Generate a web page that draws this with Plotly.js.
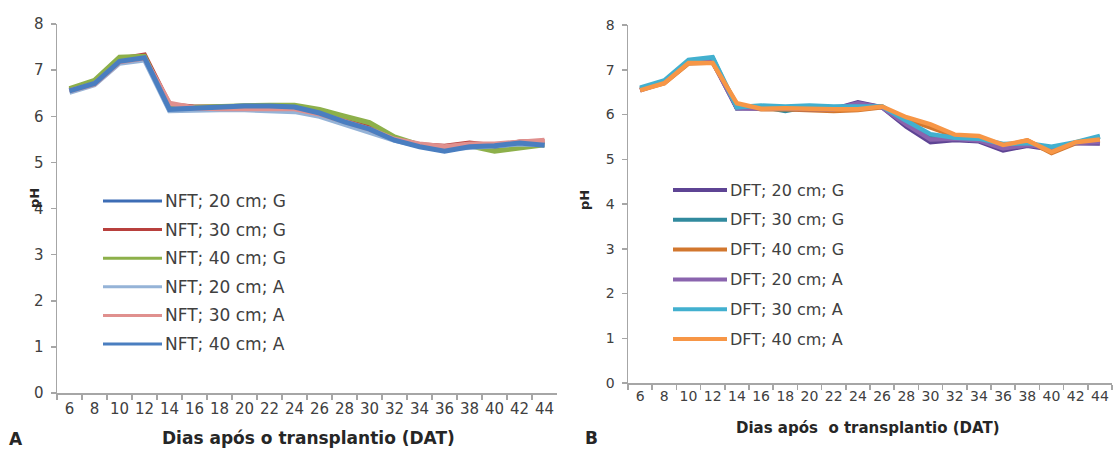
<!DOCTYPE html>
<html><head><meta charset="utf-8">
<script src="https://cdn.plot.ly/plotly-3.0.1.min.js"></script>
<style>html,body{margin:0;padding:0;background:#fff}#c{width:1113px;height:455px}</style>
</head><body><div id="c"></div>
<script>
const days = ['6','8','10','12','14','16','18','20','22','24','26','28','30','32','34','36','38','40','42','44'];
const yTicks = [0,1,2,3,4,5,6,7,8];

const nftNames = ['NFT; 20 cm; G','NFT; 30 cm; G','NFT; 40 cm; G','NFT; 20 cm; A','NFT; 30 cm; A','NFT; 40 cm; A'];
const nftColors = ['#3D6DB5','#B8403D','#8DB04A','#95B3D7','#E0908E','#4A7EC0'];
const nft20G = [6.55,6.72,7.22,7.28,6.15,6.18,6.20,6.22,6.22,6.22,6.10,5.92,5.78,5.50,5.36,5.30,5.38,5.32,5.42,5.38];
const nft30G = [6.57,6.74,7.24,7.33,6.25,6.20,6.20,6.20,6.20,6.20,6.10,5.95,5.80,5.52,5.38,5.35,5.42,5.36,5.44,5.45];
const nft40G = [6.60,6.78,7.28,7.30,6.18,6.20,6.22,6.24,6.24,6.24,6.15,6.00,5.86,5.55,5.38,5.32,5.36,5.24,5.30,5.38];
const nft20A = [6.52,6.68,7.15,7.22,6.12,6.14,6.14,6.14,6.12,6.10,6.00,5.82,5.65,5.48,5.36,5.30,5.32,5.36,5.40,5.38];
const nft30A = [6.55,6.70,7.18,7.26,6.28,6.18,6.16,6.16,6.16,6.16,6.05,5.88,5.72,5.50,5.40,5.34,5.40,5.40,5.45,5.48];
const nft40A = [6.55,6.71,7.19,7.27,6.15,6.18,6.20,6.22,6.22,6.20,6.07,5.88,5.72,5.48,5.34,5.24,5.34,5.36,5.42,5.37];

const dftNames = ['DFT; 20 cm; G','DFT; 30 cm; G','DFT; 40 cm; G','DFT; 20 cm; A','DFT; 30 cm; A','DFT; 40 cm; A'];
const dftColors = ['#5E4494','#318A9E','#D2772E','#8A64AE','#42B0CF','#F79646'];
const dft20G = [6.55,6.72,7.16,7.18,6.14,6.14,6.12,6.12,6.12,6.27,6.16,5.73,5.38,5.43,5.40,5.20,5.30,5.22,5.36,5.35];
const dft30G = [6.58,6.74,7.20,7.26,6.14,6.18,6.08,6.18,6.16,6.20,6.18,5.85,5.50,5.50,5.45,5.28,5.36,5.24,5.38,5.50];
const dft40G = [6.55,6.70,7.14,7.16,6.22,6.12,6.12,6.10,6.08,6.10,6.16,5.90,5.72,5.52,5.50,5.30,5.42,5.14,5.36,5.42];
const dft20A = [6.54,6.72,7.16,7.18,6.14,6.14,6.12,6.12,6.12,6.25,6.16,5.78,5.44,5.46,5.42,5.24,5.32,5.25,5.37,5.38];
const dft30A = [6.60,6.76,7.22,7.28,6.16,6.20,6.18,6.20,6.18,6.18,6.18,5.86,5.56,5.48,5.46,5.34,5.36,5.28,5.38,5.52];
const dft40A = [6.54,6.70,7.15,7.15,6.25,6.13,6.14,6.12,6.12,6.12,6.18,5.94,5.78,5.55,5.52,5.32,5.42,5.16,5.38,5.44];

const nftSeries = [nft20G,nft30G,nft40G,nft20A,nft30A,nft40A];
const dftSeries = [dft20G,dft30G,dft40G,dft20A,dft30A,dft40A];

const W = 1113, H = 455;
const px = v => v / W, py = v => 1 - v / H;
const FAM = 'DejaVu Sans, Verdana, sans-serif';

const traces = [];
nftSeries.forEach((s,i)=>traces.push({x:days,y:s,type:'scatter',mode:'lines',name:nftNames[i],
  line:{color:nftColors[i],width:5},xaxis:'x',yaxis:'y',showlegend:false}));
dftSeries.forEach((s,i)=>traces.push({x:days,y:s,type:'scatter',mode:'lines',name:dftNames[i],
  line:{color:dftColors[i],width:4.5},xaxis:'x2',yaxis:'y2',showlegend:false}));

const axisCommon = {showgrid:false,zeroline:false,showline:true,linecolor:'#A6A6A6',linewidth:1.5,
  ticks:'outside',ticklen:5,tickcolor:'#A6A6A6',tickwidth:1.5,fixedrange:true};
const tickL = {family:FAM,size:15,color:'#404040'};
const tickR = {family:FAM,size:14,color:'#404040'};

const shapes = [], annotations = [];
function legend(names, colors, x0, len, y0, dy, lw, fs){
  names.forEach((n,i)=>{
    const yy = y0 + i*dy;
    shapes.push({type:'line',xref:'paper',yref:'paper',x0:px(x0),x1:px(x0+len),y0:py(yy),y1:py(yy),
      line:{color:colors[i],width:lw}});
    annotations.push({xref:'paper',yref:'paper',x:px(x0+len+1),y:py(yy),xanchor:'left',yanchor:'middle',
      text:n,showarrow:false,font:{family:FAM,size:fs,color:'#404040'}});
  });
}
legend(nftNames,nftColors,103,59,201,28.6,3,17);
legend(dftNames,dftColors,673,54,190,29.8,4,16);

annotations.push({xref:'paper',yref:'paper',x:px(308),y:py(438),text:'<b>Dias após o transplantio (DAT)</b>',showarrow:false,font:{family:FAM,size:17,color:'#262626'},xanchor:'center',yanchor:'middle'});
annotations.push({xref:'paper',yref:'paper',x:px(868),y:py(428),text:'<b>Dias após  o transplantio (DAT)</b>',showarrow:false,font:{family:FAM,size:15,color:'#262626'},xanchor:'center',yanchor:'middle'});
annotations.push({xref:'paper',yref:'paper',x:px(16),y:py(439),text:'<b>A</b>',showarrow:false,font:{family:FAM,size:17,color:'#262626'},xanchor:'center',yanchor:'middle'});
annotations.push({xref:'paper',yref:'paper',x:px(591),y:py(438),text:'<b>B</b>',showarrow:false,font:{family:FAM,size:17,color:'#262626'},xanchor:'center',yanchor:'middle'});
const phFont = {family:FAM,size:13,color:'#262626'};
annotations.push({xref:'paper',yref:'paper',x:px(34),y:py(198),text:'<b>pH</b>',textangle:-90,showarrow:false,font:phFont,xanchor:'center',yanchor:'middle'});
annotations.push({xref:'paper',yref:'paper',x:px(584),y:py(200),text:'<b>pH</b>',textangle:-90,showarrow:false,font:phFont,xanchor:'center',yanchor:'middle'});

const layout = {
  width:W,height:H,margin:{l:0,r:0,t:0,b:0},paper_bgcolor:'#fff',plot_bgcolor:'#fff',
  showlegend:false,
  xaxis:Object.assign({},axisCommon,{type:'category',domain:[px(57),px(557)],range:[-0.5,19.5],
    tickson:'boundaries',anchor:'y',tickfont:tickL,tickangle:0,ticklabelstandoff:1}),
  yaxis:Object.assign({},axisCommon,{domain:[py(393),py(24)],range:[0,8],tickvals:yTicks,anchor:'x',tickfont:tickL,ticklabelstandoff:4}),
  xaxis2:Object.assign({},axisCommon,{type:'category',domain:[px(628),px(1112)],range:[-0.5,19.5],
    tickson:'boundaries',anchor:'y2',tickfont:tickR,tickangle:0}),
  yaxis2:Object.assign({},axisCommon,{domain:[py(383),py(25)],range:[0,8],tickvals:yTicks,anchor:'x2',tickfont:tickR,ticklabelstandoff:4}),
  shapes:shapes,annotations:annotations
};
Plotly.newPlot('c',traces,layout,{displayModeBar:false,staticPlot:true});
</script></body></html>
